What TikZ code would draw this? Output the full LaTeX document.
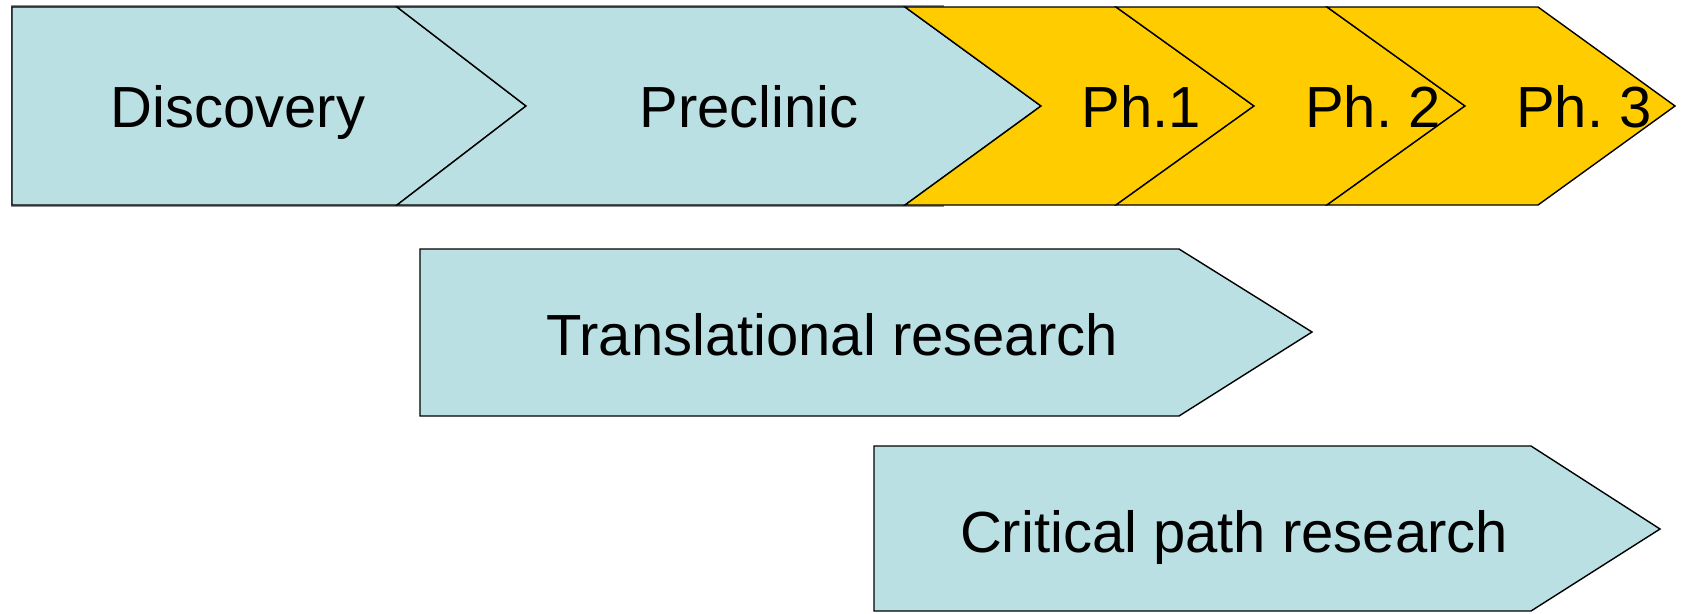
\documentclass[tikz,border=0pt]{standalone}
\usepackage{fontspec}
\setmainfont{Liberation Sans}
\frenchspacing
\definecolor{stageblue}{RGB}{187,224,227}
\definecolor{stagegold}{RGB}{255,204,0}
\usepackage{tikz}
\usetikzlibrary{arrows,shapes}
\tikzstyle{stage}=[draw=black,line width=1.4pt,line join=miter,fill=stageblue]
\tikzstyle{phase}=[stage,fill=stagegold]
\tikzstyle{shadowbox}=[draw=black!45,line width=1.2pt]
\tikzstyle{tag}=[inner sep=0pt,anchor=base,font=\fontsize{58}{62}\selectfont]

\begin{document}
\begin{tikzpicture}[x=1pt,y=-1pt]
                    \path[shadowbox] (12,6) rectangle (943,206);

                    \path[stage] (12,7) -- (397,7) -- (526,106) -- (397,205) -- (12,205) -- cycle;
                    \path[stage] (397,7) -- (905,7) -- (1041,106) -- (905,205) -- (397,205) -- (526,106) -- cycle;
                    \path[phase] (905,7) -- (1116,7) -- (1254,106) -- (1116,205) -- (905,205) -- (1041,106) -- cycle;
                    \path[phase] (1116,7) -- (1327,7) -- (1465,106) -- (1327,205) -- (1116,205) -- (1254,106) -- cycle;
                    \path[phase] (1327,7) -- (1538,7) -- (1675,106) -- (1538,205) -- (1327,205) -- (1465,106) -- cycle;

                    \path[stage] (420,249) -- (1179,249) -- (1312,332) -- (1179,416) -- (420,416) -- cycle;
                    \path[stage] (874,446) -- (1531,446) -- (1660,529) -- (1531,611) -- (874,611) -- cycle;

                    \node[tag] (disc) at (238,127) {Discovery};
                    \node[tag] (precl) at (749,127) {Preclinic};
                    \node[tag] (ph1) at (1141,127) {Ph.1};
                    \node[tag] (ph2) at (1373,127) {Ph. 2};
                    \node[tag] (ph3) at (1584,127) {Ph. 3};
                    \node[tag] (transl) at (832,355) {Translational research};
                    \node[tag] (crit) at (1234,552) {Critical path research};

                    \pgfresetboundingbox
                    \path [use as bounding box] (0,0) rectangle (1683,613);
                \end{tikzpicture}
\end{document}
